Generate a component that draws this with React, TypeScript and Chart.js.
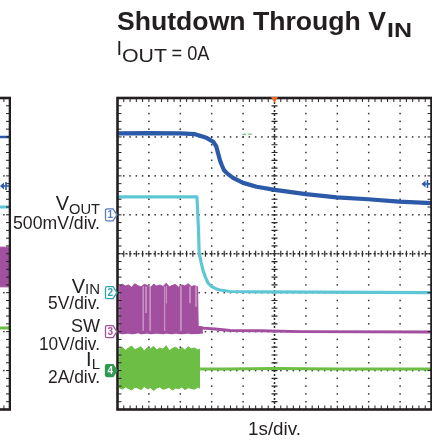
import React, { useEffect, useRef } from 'react';
import { Chart, registerables } from 'chart.js';

Chart.register(...registerables);

const FONT = '"Liberation Sans", Arial, Helvetica, sans-serif';
const INK = '#231f20';
const BLUE = '#2c59a8';
const CYAN = '#5ec6d4';
const PURPLE = '#a24f9f';
const PURPLE_LIGHT = '#c793c5';
const GREEN = '#6dbe45';

// x: time in s (1 s/div, 10 div) ; y: level in divisions (8 div)
const blueT = [0, 1.0, 2.0, 2.47, 2.63, 2.85, 3.04, 3.14, 3.2, 3.26, 3.32, 3.39, 3.48, 3.68, 4.0, 4.43, 5.01, 6.0, 6.98, 7.98, 8.96, 10];
const blueV = [7.09, 7.1, 7.09, 7.07, 7.03, 6.97, 6.88, 6.77, 6.59, 6.41, 6.28, 6.15, 6.07, 5.95, 5.82, 5.72, 5.64, 5.53, 5.45, 5.4, 5.34, 5.3];

const cyanT = [0, 2.53, 2.58, 2.6, 2.66, 2.72, 2.8, 2.88, 2.98, 3.11, 3.26, 3.58, 4.54, 10];
const cyanV = [5.46, 5.46, 4.61, 4.04, 3.79, 3.58, 3.4, 3.25, 3.17, 3.11, 3.07, 3.03, 3.02, 3.0];

const swBandT = [0.05, 0.15, 0.25, 0.35, 0.45, 0.55, 0.65, 0.75, 0.85, 0.95, 1.05, 1.15, 1.25, 1.35, 1.45, 1.55, 1.65, 1.75, 1.85, 1.95, 2.05, 2.15, 2.25, 2.35, 2.45, 2.55, 2.57, 2.72];
const swUpper = [3.16, 3.22, 3.17, 3.2, 3.14, 3.23, 3.18, 3.15, 3.21, 3.19, 3.13, 3.22, 3.17, 3.2, 3.16, 3.24, 3.15, 3.19, 3.21, 3.14, 3.2, 3.17, 3.23, 3.16, 3.18, 3.15, 2.13, 2.12];
const swLower = [1.97, 1.95, 1.96, 1.97, 1.95, 1.96, 1.98, 1.95, 1.96, 1.97, 1.95, 1.96, 1.97, 1.96, 1.95, 1.97, 1.96, 1.95, 1.97, 1.96, 1.95, 1.96, 1.97, 1.95, 1.96, 1.96, 1.96, 1.97];
const swLineT = [2.57, 2.72, 3.11, 3.58, 4.54, 5.81, 10];
const swLineV = [2.1, 2.09, 2.07, 2.03, 2.02, 2.0, 1.99];
// lighter streaks inside the switching band (time, lowest level reached)
const swStreakT = [0.82, 0.91, 1.04, 1.5, 1.56, 2.02, 2.31, 2.5];
const swStreakLow = [2.02, 2.48, 2.02, 2.02, 2.73, 2.02, 2.73, 2.64];
const swStreakTop = 3.16;

const ilBandT = [0.05, 0.15, 0.25, 0.35, 0.45, 0.55, 0.65, 0.75, 0.85, 0.95, 1.05, 1.15, 1.25, 1.35, 1.45, 1.55, 1.65, 1.75, 1.85, 1.95, 2.05, 2.15, 2.25, 2.35, 2.45, 2.55, 2.63];
const ilUpper = [1.55, 1.6, 1.52, 1.58, 1.63, 1.54, 1.57, 1.61, 1.5, 1.59, 1.56, 1.62, 1.53, 1.58, 1.55, 1.64, 1.51, 1.57, 1.6, 1.54, 1.59, 1.52, 1.61, 1.56, 1.58, 1.53, 1.55];
const ilLower = [0.56, 0.52, 0.58, 0.54, 0.5, 0.57, 0.55, 0.51, 0.59, 0.53, 0.56, 0.49, 0.55, 0.58, 0.52, 0.54, 0.57, 0.5, 0.55, 0.53, 0.58, 0.51, 0.56, 0.54, 0.52, 0.57, 0.55];
const ilLineT = [2.63, 3.5, 5.0, 7.0, 10];
const ilLineV = [1.04, 1.04, 1.05, 1.04, 1.04];

const trigDashT = [3.97, 4.28];
const trigDashV = [7.07, 7.07];

const chLevels = [5.0, 3.0, 2.0, 1.0];
const chNames = ['1', '2', '3', '4'];
const chColors = ['#5b7db5', '#2aa5a8', '#a24f9f', '#2f9a4f'];
const blueRef = 5.79;
const triggerTime = 5;

// neighbouring (cut-off) panel on the left
const leftT = [8, 10];
const leftBlue = [7.0, 7.0];
const leftCyan = [5.2, 5.2];
const leftSwUpper = [4.17, 4.17];
const leftSwLower = [3.15, 3.15];
const leftGreen = [2.09, 2.09];
const leftBlueRef = 5.74;

const pts = (t: number[], v: number[]) => t.map((x, i) => ({ x, y: v[i] }));
const streaks = () => {
  const out: any[] = [];
  swStreakT.forEach((x, i) => {
    out.push({ x, y: swStreakTop }, { x, y: swStreakLow[i] }, { x, y: null });
  });
  return out;
};

function txt(ctx: CanvasRenderingContext2D, s: string, x: number, y: number, size: number, o: { bold?: boolean; align?: string; width?: number } = {}) {
  ctx.font = `${o.bold ? 'bold ' : ''}${size}px ${FONT}`;
  const w = ctx.measureText(s).width;
  const sx = o.width ? o.width / w : 1;
  const rw = w * sx;
  const x0 = o.align === 'right' ? x - rw : o.align === 'center' ? x - rw / 2 : x;
  ctx.save();
  ctx.translate(x0, y);
  ctx.scale(sx, 1);
  ctx.fillStyle = INK;
  ctx.textAlign = 'left';
  ctx.textBaseline = 'alphabetic';
  ctx.fillText(s, 0, 0);
  ctx.restore();
  return rw;
}

const scopeGrid = {
  id: 'scopeGrid',
  beforeDatasetsDraw(chart: any) {
    const { ctx, chartArea: a, scales } = chart;
    const sx = scales.x, sy = scales.y;
    ctx.save();
    ctx.fillStyle = '#333333';
    for (let i = 1; i < 10; i++) {
      if (i === 5) continue;
      const px = sx.getPixelForValue(i);
      for (let j = 1; j < 40; j++) {
        const py = sy.getPixelForValue(j * 0.2);
        ctx.fillRect(px - 0.75, py - 0.75, 1.5, 1.5);
      }
    }
    for (let k = 1; k < 8; k++) {
      if (k === 4) continue;
      const py = sy.getPixelForValue(k);
      for (let j = 1; j < 50; j++) {
        const px = sx.getPixelForValue(j * 0.2);
        ctx.fillRect(px - 0.75, py - 0.75, 1.5, 1.5);
      }
    }
    // centre cross
    const cx = sx.getPixelForValue(5), cy = sy.getPixelForValue(4);
    ctx.strokeStyle = '#2a2a2a';
    ctx.lineWidth = 1.5;
    ctx.setLineDash([2, 2]);
    ctx.beginPath();
    ctx.moveTo(a.left, cy); ctx.lineTo(a.right, cy);
    ctx.moveTo(cx, a.top); ctx.lineTo(cx, a.bottom);
    ctx.stroke();
    ctx.setLineDash([]);
    ctx.lineWidth = 1.2;
    ctx.beginPath();
    for (let j = 1; j < 50; j++) {
      const px = sx.getPixelForValue(j * 0.2);
      ctx.moveTo(px, cy - 3); ctx.lineTo(px, cy + 3);
    }
    for (let j = 1; j < 40; j++) {
      const py = sy.getPixelForValue(j * 0.2);
      ctx.moveTo(cx - 3, py); ctx.lineTo(cx + 3, py);
    }
    ctx.stroke();
    ctx.restore();
  },
  afterDatasetsDraw(chart: any, _args: any, opts: any) {
    const { ctx, chartArea: a, scales } = chart;
    const sx = scales.x, sy = scales.y;
    ctx.save();
    ctx.strokeStyle = INK;
    ctx.lineWidth = 1;
    ctx.beginPath();
    for (let j = 1; j < 50; j++) {
      const px = sx.getPixelForValue(j * 0.2);
      ctx.moveTo(px, a.top); ctx.lineTo(px, a.top + 4);
      ctx.moveTo(px, a.bottom); ctx.lineTo(px, a.bottom - 4);
    }
    for (let j = 1; j < 40; j++) {
      const py = sy.getPixelForValue(j * 0.2);
      ctx.moveTo(a.left, py); ctx.lineTo(a.left + 4, py);
      ctx.moveTo(a.right, py); ctx.lineTo(a.right - 4, py);
    }
    ctx.stroke();
    ctx.lineWidth = 2.6;
    ctx.strokeRect(a.left, a.top, a.right - a.left, a.bottom - a.top);

    // blue reference marker on right edge
    if (opts && typeof opts.refLevel === 'number') {
      const py = sy.getPixelForValue(opts.refLevel);
      const r = a.right - 1;
      ctx.strokeStyle = BLUE;
      ctx.fillStyle = BLUE;
      ctx.lineWidth = 1.6;
      ctx.beginPath();
      ctx.moveTo(r - 6, py); ctx.lineTo(r, py);
      ctx.moveTo(r - 3, py - 4); ctx.lineTo(r - 3, py + 4);
      ctx.stroke();
      ctx.beginPath();
      ctx.moveTo(r - 9, py); ctx.lineTo(r - 5, py - 3.5); ctx.lineTo(r - 5, py + 3.5); ctx.closePath();
      ctx.fill();
    }
    ctx.restore();
  },
};

const scopeText = {
  id: 'scopeText',
  afterDraw(chart: any) {
    const { ctx, chartArea: a, scales } = chart;
    const sx = scales.x, sy = scales.y;
    ctx.save();
    // title
    const tw = txt(ctx, 'Shutdown Through V', 117, 30, 26.5, { bold: true, width: 269 });
    txt(ctx, 'IN', 117 + tw + 1, 36.5, 20, { bold: true, width: 25 });
    // subtitle
    txt(ctx, 'I', 116.5, 55, 20);
    txt(ctx, 'OUT', 122, 62, 19, { width: 45 });
    txt(ctx, '= 0A', 171.5, 60, 20, { width: 38 });

    // channel labels
    const R = 100;
    let w = txt(ctx, 'OUT', R, 214, 15, { align: 'right', width: 31 });
    txt(ctx, 'V', R - w, 210, 20, { align: 'right' });
    txt(ctx, '500mV/div.', R, 229, 18, { align: 'right', width: 87 });
    w = txt(ctx, 'IN', R, 294, 15, { align: 'right' });
    txt(ctx, 'V', R - w, 293, 20, { align: 'right' });
    txt(ctx, '5V/div.', R, 309, 18, { align: 'right', width: 52 });
    txt(ctx, 'SW', R, 332, 18, { align: 'right', width: 29 });
    txt(ctx, '10V/div.', R, 350, 18, { align: 'right', width: 61 });
    w = txt(ctx, 'L', R, 369, 15, { align: 'right' });
    txt(ctx, 'I', R - w, 366, 20, { align: 'right' });
    txt(ctx, '2A/div.', R, 383, 18, { align: 'right', width: 52 });

    // time base
    txt(ctx, '1s/div.', sx.getPixelForValue(5), 435, 18, { align: 'center', width: 53 });

    // channel ground markers
    for (let i = 0; i < chLevels.length; i++) {
      const py = sy.getPixelForValue(chLevels[i]);
      const x0 = a.left - 12, x1 = a.left - 4.5, tip = a.left - 0.5;
      const h = 6;
      ctx.beginPath();
      ctx.moveTo(x0 + 1.5, py - h);
      ctx.lineTo(x1, py - h);
      ctx.lineTo(tip, py);
      ctx.lineTo(x1, py + h);
      ctx.lineTo(x0 + 1.5, py + h);
      ctx.quadraticCurveTo(x0, py + h, x0, py + h - 1.5);
      ctx.lineTo(x0, py - h + 1.5);
      ctx.quadraticCurveTo(x0, py - h, x0 + 1.5, py - h);
      ctx.closePath();
      const filled = i === 3;
      ctx.fillStyle = filled ? chColors[i] : '#ffffff';
      ctx.fill();
      ctx.strokeStyle = chColors[i];
      ctx.lineWidth = 1.3;
      ctx.stroke();
      ctx.fillStyle = filled ? '#ffffff' : chColors[i];
      ctx.font = `bold 10px ${FONT}`;
      ctx.textAlign = 'center';
      ctx.textBaseline = 'middle';
      ctx.fillText(chNames[i], (x0 + x1) / 2 + 1, py + 0.5);
    }

    // trigger position marker
    const tx = sx.getPixelForValue(triggerTime);
    ctx.fillStyle = '#f26522';
    ctx.beginPath();
    ctx.moveTo(tx - 3.5, a.top - 1);
    ctx.lineTo(tx + 3.5, a.top - 1);
    ctx.lineTo(tx, a.top + 5);
    ctx.closePath();
    ctx.fill();
    ctx.restore();
  },
};

const baseOptions = (padding: any, refLevel: number) => ({
  animation: false as const,
  responsive: false,
  devicePixelRatio: 1,
  events: [] as any[],
  layout: { padding },
  scales: {
    x: { type: 'linear' as const, min: 0, max: 10, display: false },
    y: { type: 'linear' as const, min: 0, max: 8, display: false },
  },
  elements: { point: { radius: 0 }, line: { tension: 0 } },
  plugins: {
    legend: { display: false },
    tooltip: { enabled: false },
    title: { display: false },
    scopeGrid: { refLevel },
  },
});

const line = (t: number[], v: number[], color: string, width: number, extra: any = {}) => ({
  data: pts(t, v),
  borderColor: color,
  backgroundColor: color,
  borderWidth: width,
  pointRadius: 0,
  fill: false,
  borderJoinStyle: 'round',
  ...extra,
});

export default function App() {
  const mainRef = useRef<HTMLCanvasElement>(null);
  const leftRef = useRef<HTMLCanvasElement>(null);

  useEffect(() => {
    const main = new Chart(mainRef.current as HTMLCanvasElement, {
      type: 'line',
      data: {
        datasets: [
          line(trigDashT, trigDashV, '#8ccb95', 1.5, { borderDash: [4, 2] }),
          line(cyanT, cyanV, CYAN, 3.2),
          line(blueT, blueV, BLUE, 4.2),
          {
            data: streaks(),
            borderColor: PURPLE_LIGHT,
            borderWidth: 1,
            pointRadius: 0,
            fill: false,
            spanGaps: false,
          },
          line(swLineT, swLineV, PURPLE, 3),
          line(swBandT, swUpper, PURPLE, 1, { fill: '+1' }),
          line(swBandT, swLower, PURPLE, 1.5),
          line(ilLineT, ilLineV, GREEN, 3),
          line(ilBandT, ilUpper, GREEN, 1, { fill: '+1' }),
          line(ilBandT, ilLower, GREEN, 1),
        ] as any,
      },
      options: baseOptions({ left: 117.5, right: 0.5, top: 98, bottom: 33.5 }, blueRef) as any,
      plugins: [scopeGrid, scopeText],
    });

    const left = new Chart(leftRef.current as HTMLCanvasElement, {
      type: 'line',
      data: {
        datasets: [
          line(leftT, leftCyan, CYAN, 3),
          line(leftT, leftBlue, BLUE, 2.5),
          line(leftT, leftSwUpper, PURPLE, 1, { fill: '+1' }),
          line(leftT, leftSwLower, PURPLE, 1),
          line(leftT, leftGreen, GREEN, 3),
        ] as any,
      },
      options: baseOptions({ left: 16, right: 10, top: 98, bottom: 33.5 }, leftBlueRef) as any,
      plugins: [scopeGrid],
    });

    return () => {
      main.destroy();
      left.destroy();
    };
  }, []);

  return (
    <div style={{ position: 'fixed', left: 0, top: 0, width: 432, height: 443, background: '#ffffff', overflow: 'hidden' }}>
      <canvas ref={mainRef} width={432} height={443} style={{ position: 'absolute', left: 0, top: 0, display: 'block' }} />
      <div style={{ position: 'absolute', left: 0, top: 0, width: 11, height: 443, overflow: 'hidden' }}>
        <canvas ref={leftRef} width={330} height={443} style={{ position: 'absolute', left: -310, top: 0, display: 'block' }} />
      </div>
    </div>
  );
}
